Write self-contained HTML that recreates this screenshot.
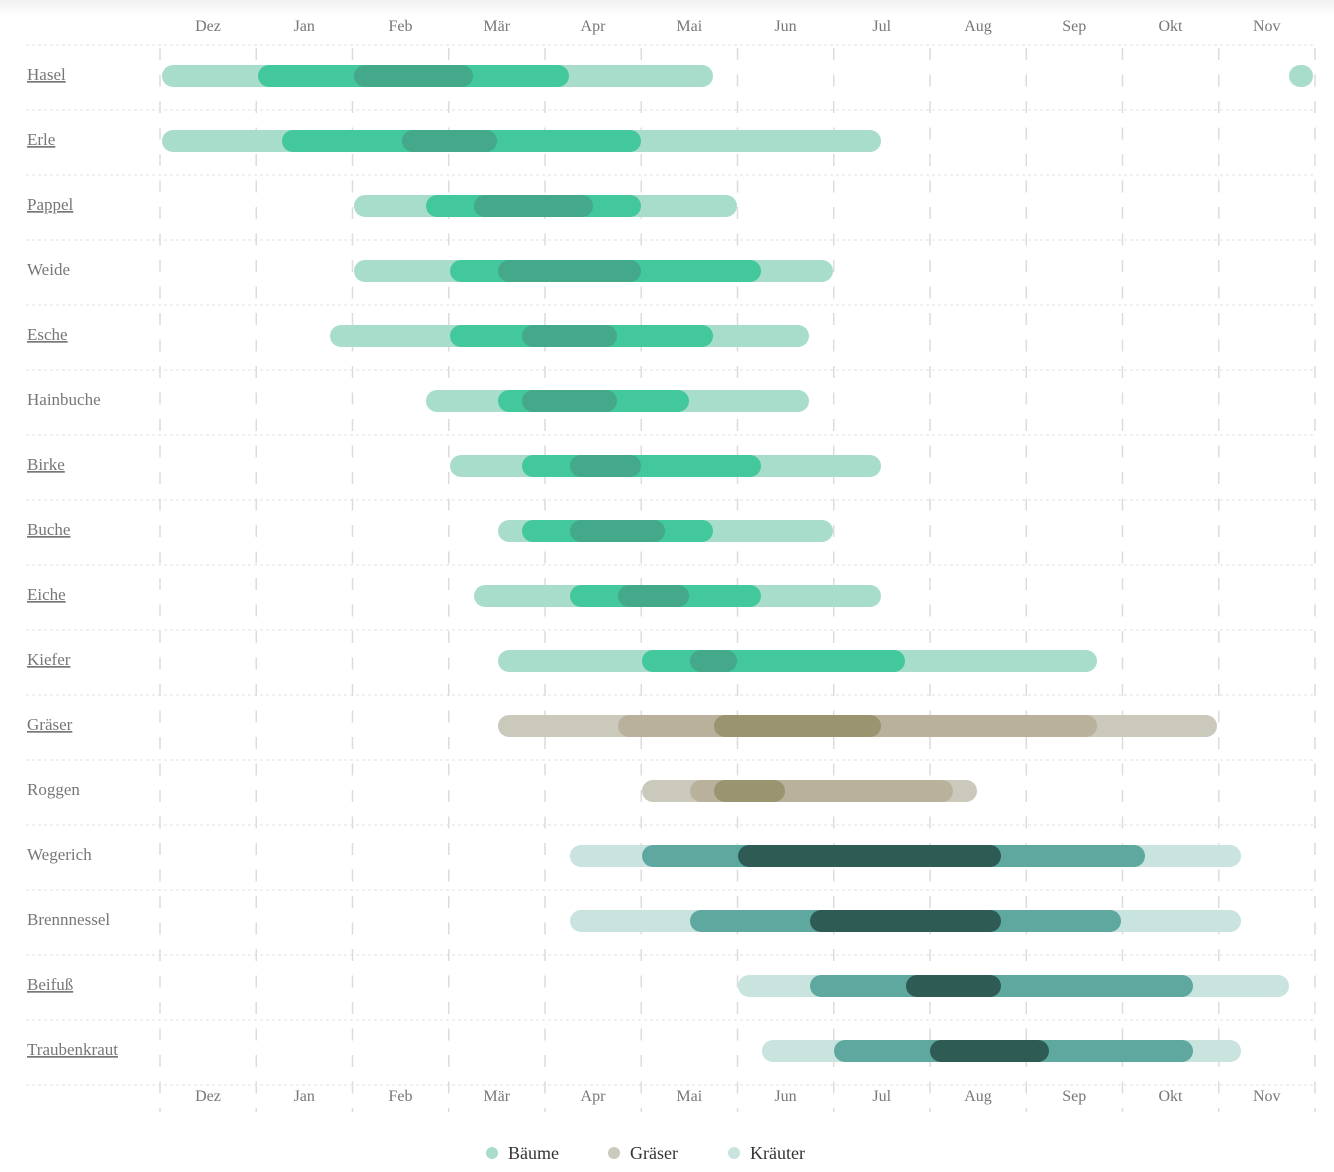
<!DOCTYPE html>
<html><head><meta charset="utf-8"><style>
html,body{margin:0;padding:0;background:#fff;width:1334px;height:1172px;overflow:hidden}
.top{position:absolute;left:0;top:0;width:1334px;height:16px;background:linear-gradient(#f1f1f1,#fff)}
svg{position:absolute;left:0;top:0}
text{font-family:"Liberation Serif",serif}
</style></head><body><div class="top"></div>
<svg width="1334" height="1172" xmlns="http://www.w3.org/2000/svg">
<g id="grid"></g>
<g id="bars"></g>
<g id="labels"></g>
</svg>
<script>
const ns="http://www.w3.org/2000/svg";
function el(p,t,a,txt){const e=document.createElementNS(ns,t);for(const k in a)e.setAttribute(k,a[k]);if(txt)e.textContent=txt;document.getElementById(p).appendChild(e);return e;}
const months=["Dez","Jan","Feb","Mär","Apr","Mai","Jun","Jul","Aug","Sep","Okt","Nov"];
const x0=160,mw=96.25;
// horizontal separators
for(let i=0;i<=16;i++){const y=45+65*i;el("grid","line",{x1:26,x2:1315,y1:y,y2:y,stroke:"#e2e2e2","stroke-width":1,"stroke-dasharray":"3 3"});}
// vertical dashed
for(let i=0;i<=12;i++){const x=x0+mw*i;el("grid","line",{x1:x,x2:x,y1:48,y2:1112,stroke:"#dcdcdc","stroke-width":1.5,"stroke-dasharray":"12 14.5"});}
months.forEach((m,i)=>{const x=x0+mw*i+48;
el("labels","text",{x:x,y:31,"text-anchor":"middle","font-size":16,fill:"#777"},m);
el("labels","text",{x:x,y:1101,"text-anchor":"middle","font-size":16,fill:"#777"},m);});
const T=["#a8ddcc","#43c89e","#43a98a"],G=["#cbc9bc","#b9b19b","#9a9470"],K=["#c9e3df","#5fa8a0","#2f5b55"];
const rows=[
["Hasel",1,T,[162,713],[258,569],[354,473]],
["Erle",1,T,[162,881],[282,641],[402,497]],
["Pappel",1,T,[354,737],[426,641],[474,593]],
["Weide",0,T,[354,833],[450,761],[498,641]],
["Esche",1,T,[330,809],[450,713],[522,617]],
["Hainbuche",0,T,[426,809],[498,689],[522,617]],
["Birke",1,T,[450,881],[522,761],[570,641]],
["Buche",1,T,[498,833],[522,713],[570,665]],
["Eiche",1,T,[474,881],[570,761],[618,689]],
["Kiefer",1,T,[498,1097],[642,905],[690,737]],
["Gräser",1,G,[498,1217],[618,1097],[714,881]],
["Roggen",0,G,[642,977],[690,953],[714,785]],
["Wegerich",0,K,[570,1241],[642,1145],[738,1001]],
["Brennnessel",0,K,[570,1241],[690,1121],[810,1001]],
["Beifuß",1,K,[738,1289],[810,1193],[906,1001]],
["Traubenkraut",1,K,[762,1241],[834,1193],[930,1049]]];
rows.forEach((r,i)=>{const cy=76+65*i;
const t=el("labels","text",{x:27,y:cy+4,"font-size":17,fill:"#777"},r[0]);
if(r[1])t.setAttribute("text-decoration","underline");
for(let k=0;k<3;k++){const s=r[3+k];el("bars","rect",{x:s[0],y:cy-11,width:s[1]-s[0],height:22,rx:11,fill:r[2][k]});}
});
el("bars","rect",{x:1289,y:65,width:24,height:22,rx:11,fill:T[0]});
// legend
[["Bäume",492,T[0]],["Gräser",614,G[0]],["Kräuter",734,K[0]]].forEach(l=>{
el("labels","circle",{cx:l[1],cy:1153,r:6,fill:l[2]});
el("labels","text",{x:l[1]+16,y:1159,"font-size":18,fill:"#333"},l[0]);});
</script>
</body></html>
